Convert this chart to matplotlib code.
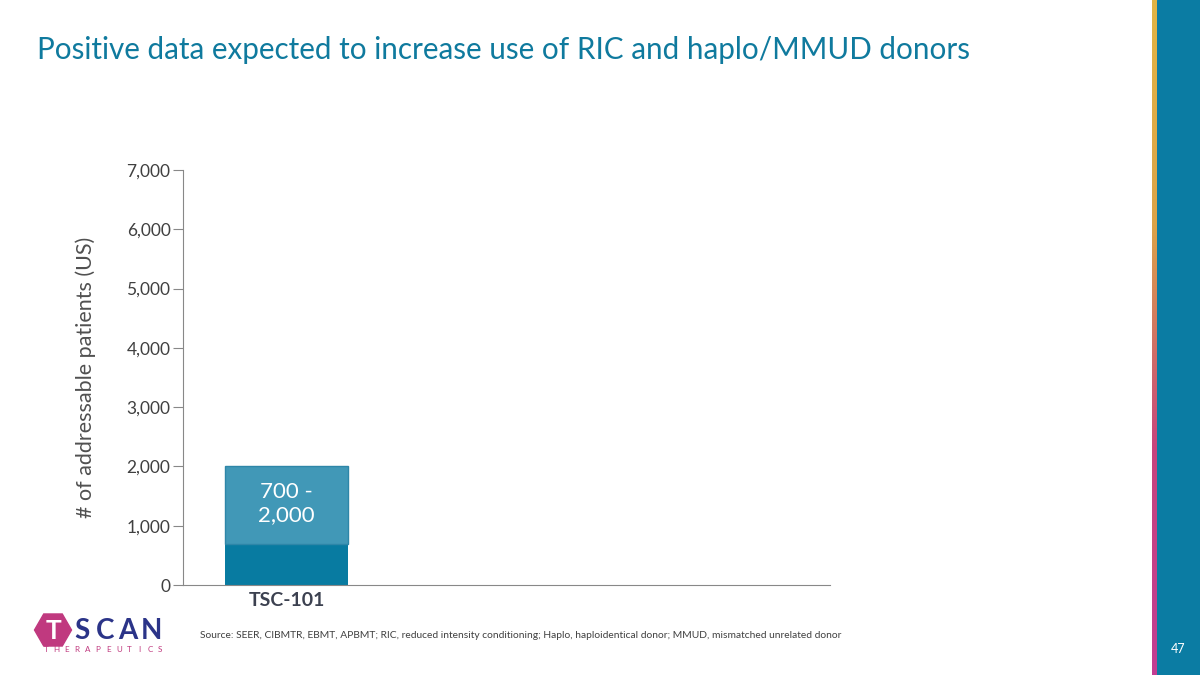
import numpy as np
import matplotlib
matplotlib.use("Agg")
import matplotlib.pyplot as plt
from matplotlib.patches import RegularPolygon, Rectangle
from matplotlib.colors import LinearSegmentedColormap

plt.rcParams['font.family'] = ['Lato', 'DejaVu Sans']

# data
categories = ["TSC-101"]
low_values = [700]
high_values = [2000]
bar_label = "700 -\n2,000"
yticks = [0, 1000, 2000, 3000, 4000, 5000, 6000, 7000]

teal = "#0f7a9e"
dark_bar = "#087ba1"
light_bar = "#4198b7"
grey = "#505050"

fig = plt.figure(figsize=(12, 6.75), dpi=100)

# right side panel
side = fig.add_axes([1157 / 1200, 0, 43 / 1200, 1])
side.add_patch(Rectangle((0, 0), 1, 1, color="#0b7ca3", transform=side.transAxes))
side.axis("off")
stripe = fig.add_axes([1152 / 1200, 0, 5 / 1200, 1])
grad = np.linspace(0, 1, 256).reshape(-1, 1)
cmap = LinearSegmentedColormap.from_list("s", ["#e2b443", "#dca348", "#c7447e", "#c23d93"])
stripe.imshow(grad, aspect="auto", cmap=cmap, extent=[0, 1, 0, 1])
stripe.axis("off")
fig.text(1178 / 1200, 1 - 649 / 675, "47", color="white", fontsize=9,
         ha="center", va="center")

# title
fig.text(37 / 1200, 1 - 50 / 675, "Positive data expected to increase use of RIC and haplo/MMUD donors",
         color=teal, fontsize=21.3, ha="left", va="center")

# main chart
ax = fig.add_axes([183 / 1200, 1 - 585 / 675, 647 / 1200, 415 / 675])
x = np.arange(len(categories))
w = 0.6
ax.bar(x, low_values, width=w, color=dark_bar, zorder=2)
tops = [h - l for h, l in zip(high_values, low_values)]
ax.bar(x, tops, bottom=low_values, width=w, color=light_bar,
       edgecolor="#2e86a8", linewidth=1, zorder=2)
for xi, lo, hi in zip(x, low_values, high_values):
    ax.text(xi, (lo + hi) / 2 + 20, bar_label, ha="center", va="center",
            color="white", fontsize=16, linespacing=1.2)

ax.set_xlim(-0.505, -0.505 + 647 / 205)
ax.set_ylim(0, 7000)
ax.set_yticks(yticks)
ax.set_yticklabels([f"{v:,}" for v in yticks], fontsize=12.5, color="#404040")
ax.set_xticks(x)
ax.set_xticklabels(categories, fontsize=14, fontweight="bold", color="#3c4150")
ax.tick_params(axis="y", direction="out", length=7, color="#888888", pad=2)
ax.tick_params(axis="x", length=0, pad=5)
for s in ["top", "right"]:
    ax.spines[s].set_visible(False)
ax.spines["left"].set_color("#888888")
ax.spines["bottom"].set_color("#888888")
ax.set_ylabel("# of addressable patients (US)", fontsize=15.5, color=grey, labelpad=22)

# logo
logo = fig.add_axes([0, 0, 1, 1], facecolor="none")
logo.axis("off")
logo.set_xlim(0, 1200)
logo.set_ylim(675, 0)
logo.add_patch(RegularPolygon((53, 630), numVertices=6, radius=18.5, orientation=np.pi / 6,
                              color="#c0397f"))
logo.text(53, 631, "T", color="white", fontsize=19, fontweight="bold",
          ha="center", va="center")
for i, ch in enumerate("SCAN"):
    logo.text(82 + i * 23, 631, ch, color="#2b3488", fontsize=20, fontweight="bold",
              ha="center", va="center")
for i, ch in enumerate("THERAPEUTICS"):
    logo.text(46 + i * 10.4, 650, ch, color="#c0397f", fontsize=5.8,
              ha="center", va="center")

# source
fig.text(200 / 1200, 1 - 636 / 675,
         "Source: SEER, CIBMTR, EBMT, APBMT; RIC, reduced intensity conditioning; "
         "Haplo, haploidentical donor; MMUD, mismatched unrelated donor",
         fontsize=7.4, color="#404040", ha="left", va="center")

fig.savefig("out.png", dpi=100)
